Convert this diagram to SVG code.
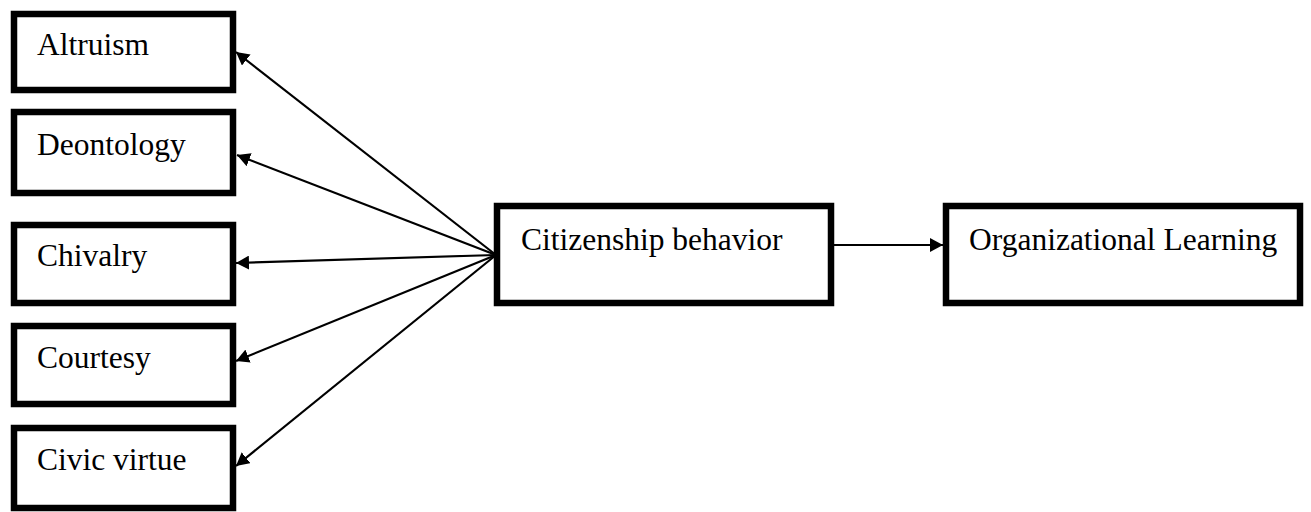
<svg xmlns="http://www.w3.org/2000/svg" width="1311" height="512" viewBox="0 0 1311 512">
<style>
.box{fill:#fff;stroke:#000;stroke-width:6.5}
.lbl{font-family:"Liberation Serif","Times New Roman",serif;font-size:31.5px;fill:#000}
.con{stroke:#000;stroke-width:2.2;fill:none;marker-end:url(#ah)}
</style>
<defs>
<marker id="ah" markerWidth="14" markerHeight="14" refX="13" refY="7" orient="auto" markerUnits="userSpaceOnUse">
<path d="M0,0 L13,7 L0,14 Z" fill="#000"/>
</marker>
</defs>
<rect width="1311" height="512" fill="#fff"/>
<g id="altruism"><rect class="box" x="14" y="14" width="219" height="76"/><text class="lbl" x="37" y="55">Altruism</text></g>
<g id="deontology"><rect class="box" x="14" y="112" width="219" height="81"/><text class="lbl" x="37" y="155">Deontology</text></g>
<g id="chivalry"><rect class="box" x="14" y="225" width="219" height="78"/><text class="lbl" x="37" y="266">Chivalry</text></g>
<g id="courtesy"><rect class="box" x="14" y="326" width="219" height="78"/><text class="lbl" x="37" y="368">Courtesy</text></g>
<g id="civic"><rect class="box" x="14" y="428" width="219" height="80"/><text class="lbl" x="37" y="470">Civic virtue</text></g>
<g id="citizenship"><rect class="box" x="497" y="206" width="334" height="97"/><text class="lbl" x="521" y="250">Citizenship behavior</text></g>
<g id="orglearning"><rect class="box" x="946" y="206" width="354" height="97"/><text class="lbl" x="969" y="250">Organizational Learning</text></g>
<g id="connectors">
<line class="con" x1="496" y1="255" x2="236" y2="52"/>
<line class="con" x1="496" y1="255" x2="237" y2="155"/>
<line class="con" x1="496" y1="255" x2="236" y2="263"/>
<line class="con" x1="496" y1="255" x2="236" y2="361"/>
<line class="con" x1="496" y1="255" x2="236" y2="466"/>
<line class="con" x1="834" y1="245" x2="943" y2="245"/>
</g>
</svg>
